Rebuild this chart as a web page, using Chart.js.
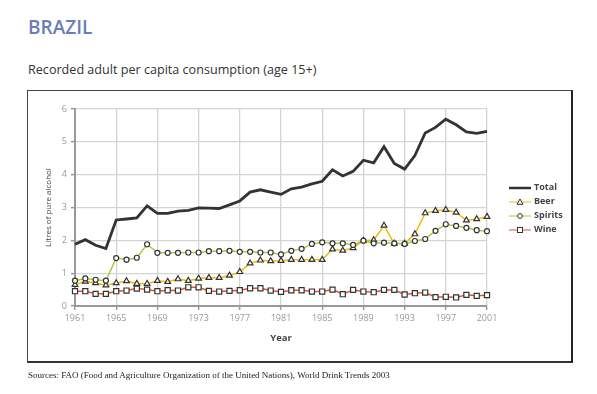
<!DOCTYPE html>
<html>
<head>
<meta charset="utf-8">
<script src="https://cdn.jsdelivr.net/npm/chart.js@4.4.1/dist/chart.umd.min.js"></script>
<style>
  body { margin: 0; width: 597px; height: 394px; background: #fff; position: relative; overflow: hidden; }
  #titel { position: absolute; left: 28px; top: 14px; font: 600 19px "Open Sans", sans-serif; color: #6a7db5; }
  #untertitel { position: absolute; left: 28px; top: 61px; font: 12.6px "Open Sans", sans-serif; color: #333; }
  #rahmen { position: absolute; left: 27px; top: 90px; width: 546px; height: 273px; box-sizing: border-box;
            border: 1px solid #444; border-right: 2px solid #222; border-bottom: 2px solid #333; }
  #chartbox { position: absolute; left: 0; top: 0; width: 597px; height: 394px; }
  #legende { position: absolute; left: 508px; top: 180px; font: bold 9px "Open Sans", sans-serif; color: #444; }
  #legende div { height: 14px; line-height: 14px; white-space: nowrap; }
  #legende svg { vertical-align: middle; margin-right: 2px; }
  #quelle { position: absolute; left: 28px; top: 370px; font: 9px "Liberation Serif", serif; color: #222; }
</style>
</head>
<body>
<div id="titel">BRAZIL</div>
<div id="untertitel">Recorded adult per capita consumption (age 15+)</div>
<div id="rahmen"></div>
<div id="chartbox"><canvas id="linechart"></canvas></div>
<div id="legende">
  <div><svg width="24" height="8"><line x1="1" y1="4" x2="23" y2="4" stroke="#333" stroke-width="2.5"/></svg>Total</div>
  <div><svg width="24" height="8"><line x1="1" y1="4" x2="23" y2="4" stroke="#f5b800" stroke-width="1"/><polygon points="12,1 15,6.3 9,6.3" fill="#fff" stroke="#333" stroke-width="1"/></svg>Beer</div>
  <div><svg width="24" height="8"><line x1="1" y1="4" x2="23" y2="4" stroke="#a6cc3a" stroke-width="1"/><circle cx="12" cy="4" r="2.4" fill="#fff" stroke="#333" stroke-width="1"/></svg>Spirits</div>
  <div><svg width="24" height="8"><line x1="1" y1="4" x2="23" y2="4" stroke="#e8502a" stroke-width="1"/><rect x="9.5" y="1.5" width="5" height="5" fill="#fff" stroke="#333" stroke-width="1"/></svg>Wine</div>
</div>
<div id="quelle">Sources: FAO (Food and Agriculture Organization of the United Nations), World Drink Trends 2003</div>

<script>
// Jahre (Kategorien)
const jahre = [1961, 1962, 1963, 1964, 1965, 1966, 1967, 1968, 1969, 1970,
  1971, 1972, 1973, 1974, 1975, 1976, 1977, 1978, 1979, 1980,
  1981, 1982, 1983, 1984, 1985, 1986, 1987, 1988, 1989, 1990,
  1991, 1992, 1993, 1994, 1995, 1996, 1997, 1998, 1999, 2000, 2001];

// Liter reiner Alkohol pro Kopf
const total = [1.88, 2.02, 1.85, 1.75, 2.62, 2.65, 2.68, 3.05, 2.82, 2.82,
  2.89, 2.91, 2.99, 2.98, 2.97, 3.08, 3.20, 3.47, 3.54, 3.47,
  3.40, 3.57, 3.62, 3.72, 3.80, 4.15, 3.96, 4.10, 4.44, 4.36,
  4.85, 4.34, 4.17, 4.58, 5.27, 5.44, 5.69, 5.52, 5.30, 5.26, 5.32];

const beer = [0.65, 0.75, 0.70, 0.63, 0.70, 0.76, 0.68, 0.68, 0.77, 0.74,
  0.82, 0.77, 0.84, 0.86, 0.86, 0.93, 1.04, 1.30, 1.39, 1.37,
  1.38, 1.41, 1.41, 1.41, 1.41, 1.73, 1.69, 1.77, 1.99, 2.01,
  2.45, 1.90, 1.90, 2.19, 2.83, 2.90, 2.93, 2.85, 2.61, 2.65, 2.72];

const spirits = [0.77, 0.84, 0.80, 0.77, 1.46, 1.41, 1.47, 1.88, 1.62, 1.62,
  1.62, 1.63, 1.63, 1.67, 1.67, 1.68, 1.65, 1.65, 1.63, 1.63,
  1.57, 1.68, 1.74, 1.89, 1.94, 1.91, 1.91, 1.86, 1.99, 1.91,
  1.93, 1.91, 1.89, 1.98, 2.04, 2.29, 2.49, 2.44, 2.38, 2.31, 2.28];

const wine = [0.45, 0.45, 0.37, 0.37, 0.45, 0.47, 0.53, 0.50, 0.45, 0.48,
  0.47, 0.57, 0.57, 0.46, 0.44, 0.46, 0.48, 0.54, 0.54, 0.47,
  0.43, 0.48, 0.48, 0.44, 0.44, 0.50, 0.36, 0.49, 0.44, 0.42,
  0.49, 0.49, 0.35, 0.39, 0.41, 0.27, 0.28, 0.26, 0.34, 0.31, 0.33];

const yTicks = [0, 1, 2, 3, 4, 5, 6];

Chart.defaults.font.family = '"Open Sans", sans-serif';
Chart.defaults.animation = false;

function serie(label, data, farbe, punkt, radius) {
  return {
    label: label,
    data: data,
    borderColor: farbe,
    borderWidth: 1.5,
    pointStyle: punkt,
    pointRadius: radius,
    pointBackgroundColor: '#fff',
    pointBorderColor: '#333',
    pointBorderWidth: 1.2,
    tension: 0
  };
}

const daten = {
  labels: jahre,
  datasets: [
    serie('Wine', wine, '#e8502a', 'rect', 3.6),
    serie('Spirits', spirits, '#a6cc3a', 'circle', 2.5),
    serie('Beer', beer, '#f5b800', 'triangle', 3.3),
    { label: 'Total', data: total, borderColor: '#333', borderWidth: 2.8, pointRadius: 0, tension: 0 }
  ]
};

const gitter = {
  color: '#d4d4d4', lineWidth: 1.3, borderDash: [8, 3], dash: [8, 3], tickBorderDash: [8, 3],
  tickLength: 4, tickColor: '#999', tickWidth: 1.5
};

new Chart(document.getElementById('linechart'), {
  type: 'line',
  data: daten,
  options: {
    responsive: true,
    maintainAspectRatio: false,
    layout: { padding: { top: 109, right: 110, bottom: 50, left: 40 } },
    plugins: { legend: { display: false }, tooltip: { enabled: false } },
    scales: {
      x: {
        type: 'category',
        offset: false,
        afterFit: s => { s.height = 38; },
        border: { color: '#999', width: 2 },
        grid: gitter,
        ticks: {
          autoSkip: false, maxRotation: 0, padding: 3, color: '#999', font: { size: 9 },
          callback: function (v, i) { return i % 4 === 0 ? String(jahre[i]) : null; }
        },
        title: { display: true, text: 'Year', color: '#444', font: { size: 9.5, weight: 'bold' }, padding: { top: 0, bottom: 0 } }
      },
      y: {
        min: yTicks[0],
        max: yTicks[yTicks.length - 1],
        afterFit: s => { s.width = 35; },
        border: { color: '#999', width: 2 },
        grid: gitter,
        ticks: { stepSize: 1, padding: 4, color: '#999', font: { size: 9 } },
        title: { display: true, text: 'Litres of pure alcohol', color: '#444', font: { size: 8 }, padding: { top: 4, bottom: 0 } }
      }
    }
  }
});
</script>
</body>
</html>
